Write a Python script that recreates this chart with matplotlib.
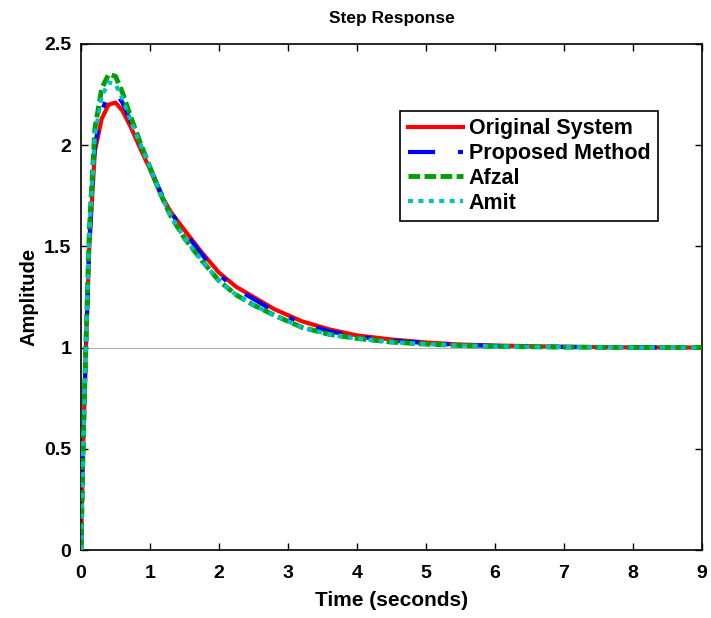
import matplotlib.pyplot as plt
import numpy as np

plt.rcParams['font.family'] = ['Liberation Sans', 'DejaVu Sans']
plt.rcParams['font.weight'] = 'bold'

# step response samples (time in seconds)
t = [0, 0.03, 0.07, 0.12, 0.2, 0.3, 0.4, 0.5, 0.6, 0.72, 0.85, 1.0, 1.15, 1.3,
     1.5, 1.75, 2.0, 2.25, 2.5, 2.8, 3.2, 3.6, 4.0, 4.5, 5.0, 5.5, 6.0, 7.0, 8.0, 9.0]

original = [0, 0.5, 1.0, 1.5, 1.97, 2.13, 2.20, 2.21, 2.17, 2.09, 1.99, 1.88, 1.76, 1.67,
            1.58, 1.47, 1.37, 1.30, 1.25, 1.19, 1.13, 1.09, 1.06, 1.04, 1.025, 1.015, 1.01,
            1.004, 1.001, 1.0]
proposed = [0, 0.5, 1.0, 1.52, 2.0, 2.17, 2.25, 2.26, 2.21, 2.12, 2.01, 1.89, 1.77, 1.67,
            1.57, 1.46, 1.36, 1.29, 1.24, 1.18, 1.12, 1.08, 1.055, 1.035, 1.022, 1.013,
            1.008, 1.003, 1.001, 1.0]
afzal = [0, 0.5, 1.02, 1.58, 2.08, 2.28, 2.35, 2.34, 2.26, 2.14, 2.02, 1.89, 1.76, 1.65,
         1.54, 1.43, 1.33, 1.26, 1.21, 1.16, 1.10, 1.065, 1.045, 1.027, 1.017, 1.01,
         1.006, 1.002, 1.0, 1.0]
amit = [0, 0.5, 1.02, 1.56, 2.05, 2.24, 2.31, 2.30, 2.23, 2.12, 2.01, 1.89, 1.76, 1.65,
        1.54, 1.43, 1.33, 1.26, 1.21, 1.16, 1.10, 1.065, 1.045, 1.027, 1.017, 1.01,
        1.006, 1.002, 1.0, 1.0]

fig = plt.figure(figsize=(7.11, 6.18), dpi=100)
ax = fig.add_axes([0.114, 0.110, 0.873, 0.819])

# steady-state reference
ax.axhline(1.0, color='#b0b0b0', lw=0.8, zorder=1)

ax.plot(t, original, color='#ff0000', lw=3, label='Original System', zorder=2)
ax.plot(t, proposed, color='#0000ff', lw=3, dashes=(6.5, 5.5, 1.4, 5.5),
        label='Proposed Method', zorder=3)
ax.plot(t, afzal, color='#00a000', lw=3.5, dashes=(2.4, 0.9), label='Afzal', zorder=4)
ax.plot(t, amit, color='#00c0c0', lw=3, dashes=(1.2, 1.3), label='Amit', zorder=5)

ax.set_xlim(0, 9)
ax.set_ylim(0, 2.5)
ax.set_xticks(np.arange(0, 10, 1))
ax.set_yticks([0, 0.5, 1, 1.5, 2, 2.5])
ax.set_yticklabels(['0', '0.5', '1', '1.5', '2', '2.5'])
ax.tick_params(direction='in', length=5, width=1, top=True, right=True, labelsize=14)
ax.tick_params(axis='x', pad=11)
ax.tick_params(axis='y', pad=7)
for s in ax.spines.values():
    s.set_linewidth(1.2)

ax.set_title('Step Response', fontsize=12.5, fontweight='bold', pad=15)
ax.set_xlabel('Time (seconds)', fontsize=15, fontweight='bold', labelpad=6)
ax.set_ylabel('Amplitude', fontsize=14.5, fontweight='bold', labelpad=4)

leg = ax.legend(loc='upper left', bbox_to_anchor=(0.514, 0.868), borderaxespad=0,
                fontsize=15.5, handlelength=2.55, handletextpad=0.28, labelspacing=0.18,
                borderpad=0.35, fancybox=False, framealpha=1, edgecolor='black')
leg.get_frame().set_linewidth(1.2)

fig.savefig('out.png', dpi=100)
